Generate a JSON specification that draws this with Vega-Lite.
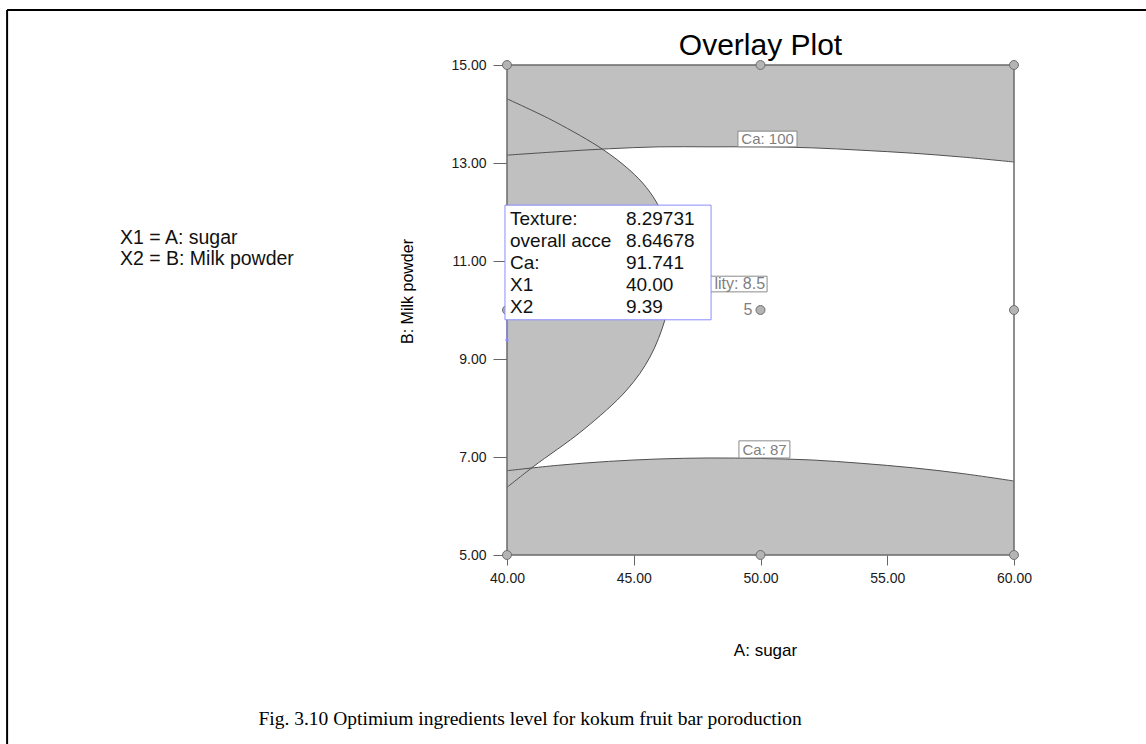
{
  "$schema": "https://vega.github.io/schema/vega-lite/v6.json",
  "width": 507,
  "height": 490,
  "autosize": {"type": "none"},
  "padding": {"left": 507, "top": 65, "right": 132, "bottom": 189},
  "background": "white",
  "config": {"view": {"stroke": null}, "font": "Liberation Sans"},
  "datasets": {
    "ca100": [
      {"a": 40, "b": 13.16}, {"a": 42, "b": 13.23}, {"a": 44, "b": 13.29}, {"a": 46, "b": 13.33},
      {"a": 48, "b": 13.33}, {"a": 50, "b": 13.33}, {"a": 52, "b": 13.31}, {"a": 54, "b": 13.26},
      {"a": 56, "b": 13.2}, {"a": 58, "b": 13.12}, {"a": 60, "b": 13.02}
    ],
    "ca87": [
      {"a": 40, "b": 6.72}, {"a": 42, "b": 6.83}, {"a": 44, "b": 6.91}, {"a": 46, "b": 6.96},
      {"a": 48, "b": 6.98}, {"a": 50, "b": 6.97}, {"a": 52, "b": 6.94}, {"a": 54, "b": 6.87},
      {"a": 56, "b": 6.78}, {"a": 58, "b": 6.66}, {"a": 60, "b": 6.51}
    ],
    "acc": [
      {"a": 40, "b": 6.38}, {"a": 41.03, "b": 6.8}, {"a": 43.0, "b": 7.55}, {"a": 44.73, "b": 8.37},
      {"a": 45.64, "b": 9.04}, {"a": 46.23, "b": 9.8}, {"a": 46.45, "b": 10.4}, {"a": 46.5, "b": 10.98},
      {"a": 46.35, "b": 11.6}, {"a": 46.0, "b": 12.1}, {"a": 45.5, "b": 12.5}, {"a": 44.85, "b": 12.85},
      {"a": 43.8, "b": 13.27}, {"a": 41.9, "b": 13.84}, {"a": 40, "b": 14.31}
    ],
    "design": [
      {"a": 40, "b": 5}, {"a": 50, "b": 5}, {"a": 60, "b": 5},
      {"a": 40, "b": 10}, {"a": 50, "b": 10}, {"a": 60, "b": 10},
      {"a": 40, "b": 15}, {"a": 50, "b": 15}, {"a": 60, "b": 15}
    ],
    "one": [{"k": 1}]
  },
  "layer": [
    {"data": {"name": "ca100"}, "mark": {"type": "area", "color": "#c0c0c0", "interpolate": "catmull-rom"},
      "encoding": {
        "x": {
          "field": "a", "type": "quantitative", "title": "A: sugar",
          "scale": {"domain": [40, 60], "nice": false, "zero": false},
          "axis": {
            "values": [40, 45, 50, 55, 60], "format": ".2f", "grid": false, "domain": false, "labelFlush": false,
            "tickColor": "#666666", "tickSize": 10, "labelPadding": 6,
            "labelFont": "Liberation Sans", "labelFontSize": 14, "labelColor": "#1a1a1a",
            "titleFont": "Liberation Sans", "titleFontSize": 17, "titleFontWeight": "normal", "titleColor": "black",
            "titleX": 258, "titleY": 100, "titleBaseline": "alphabetic", "titleAlign": "center"
          }
        },
        "y": {
          "field": "b", "type": "quantitative", "title": "B: Milk powder",
          "scale": {"domain": [5, 15], "nice": false, "zero": false},
          "axis": {
            "values": [5, 7, 9, 11, 13, 15], "format": ".2f", "grid": false, "domain": false, "labelFlush": false,
            "tickColor": "#666666", "tickSize": 14, "labelPadding": 7,
            "labelFont": "Liberation Sans", "labelFontSize": 14, "labelColor": "#1a1a1a",
            "titleFont": "Liberation Sans", "titleFontSize": 16, "titleFontWeight": "normal", "titleColor": "black",
            "titleAngle": 270, "titleX": -95, "titleY": 226, "titleBaseline": "alphabetic", "titleAlign": "center"
          }
        },
        "y2": {"datum": 15}
      }},
    {"data": {"name": "ca87"}, "mark": {"type": "area", "color": "#c0c0c0", "interpolate": "catmull-rom"},
      "encoding": {
        "x": {"field": "a", "type": "quantitative", "title": "A: sugar", "scale": {"domain": [40, 60], "nice": false, "zero": false}},
        "y": {"field": "b", "type": "quantitative", "title": "B: Milk powder", "scale": {"domain": [5, 15], "nice": false, "zero": false}},
        "y2": {"datum": 5}
      }},
    {"data": {"name": "acc"}, "mark": {"type": "area", "orient": "horizontal", "color": "#c0c0c0", "interpolate": "catmull-rom"},
      "encoding": {
        "x": {"field": "a", "type": "quantitative", "title": "A: sugar", "scale": {"domain": [40, 60], "nice": false, "zero": false}},
        "y": {"field": "b", "type": "quantitative", "title": "B: Milk powder", "scale": {"domain": [5, 15], "nice": false, "zero": false}},
        "x2": {"datum": 40}
      }},
    {"data": {"name": "ca100"}, "mark": {"type": "line", "color": "#505050", "strokeWidth": 1, "interpolate": "catmull-rom"},
      "encoding": {
        "x": {"field": "a", "type": "quantitative", "title": "A: sugar", "scale": {"domain": [40, 60], "nice": false, "zero": false}},
        "y": {"field": "b", "type": "quantitative", "title": "B: Milk powder", "scale": {"domain": [5, 15], "nice": false, "zero": false}}
      }},
    {"data": {"name": "ca87"}, "mark": {"type": "line", "color": "#505050", "strokeWidth": 1, "interpolate": "catmull-rom"},
      "encoding": {
        "x": {"field": "a", "type": "quantitative", "title": "A: sugar", "scale": {"domain": [40, 60], "nice": false, "zero": false}},
        "y": {"field": "b", "type": "quantitative", "title": "B: Milk powder", "scale": {"domain": [5, 15], "nice": false, "zero": false}}
      }},
    {"data": {"name": "acc"}, "mark": {"type": "line", "color": "#505050", "strokeWidth": 1, "interpolate": "catmull-rom"},
      "encoding": {
        "x": {"field": "a", "type": "quantitative", "title": "A: sugar", "scale": {"domain": [40, 60], "nice": false, "zero": false}},
        "y": {"field": "b", "type": "quantitative", "title": "B: Milk powder", "scale": {"domain": [5, 15], "nice": false, "zero": false}},
        "order": {"field": "b", "type": "quantitative"}
      }},
    {"data": {"name": "one"}, "mark": {"type": "rect", "fill": "white", "fillOpacity": 0, "stroke": "#6a6a6a", "strokeWidth": 1.5},
      "encoding": {
        "x": {"datum": 40, "scale": {"domain": [40, 60], "nice": false, "zero": false}}, "x2": {"datum": 60},
        "y": {"datum": 5, "scale": {"domain": [5, 15], "nice": false, "zero": false}}, "y2": {"datum": 15}
      }},
    {"data": {"name": "design"}, "mark": {"type": "point", "filled": true, "size": 80, "fill": "#b4b4b4", "stroke": "#6e6e6e", "strokeWidth": 1, "opacity": 1},
      "encoding": {
        "x": {"field": "a", "type": "quantitative", "title": "A: sugar", "scale": {"domain": [40, 60], "nice": false, "zero": false}},
        "y": {"field": "b", "type": "quantitative", "title": "B: Milk powder", "scale": {"domain": [5, 15], "nice": false, "zero": false}}
      }},
    {"data": {"name": "one"}, "mark": {"type": "text", "text": "Overlay Plot", "fontSize": 30, "color": "black", "align": "center", "baseline": "alphabetic"},
      "encoding": {"x": {"datum": 50, "scale": {"domain": [40, 60], "nice": false, "zero": false}}, "y": {"datum": 15.2, "scale": {"domain": [5, 15], "nice": false, "zero": false}}}},
    {"data": {"name": "one"}, "mark": {"type": "text", "text": "5", "fontSize": 16, "color": "#7f7f7f", "align": "right", "baseline": "middle", "dx": -8},
      "encoding": {"x": {"datum": 50, "scale": {"domain": [40, 60], "nice": false, "zero": false}}, "y": {"datum": 10, "scale": {"domain": [5, 15], "nice": false, "zero": false}}}},
    {"data": {"name": "one"}, "mark": {"type": "rect", "fill": "white", "stroke": "#8a8a8a", "strokeWidth": 1},
      "encoding": {"x": {"datum": 49.11, "scale": {"domain": [40, 60], "nice": false, "zero": false}}, "x2": {"datum": 51.44}, "y": {"datum": 13.33, "scale": {"domain": [5, 15], "nice": false, "zero": false}}, "y2": {"datum": 13.65}}},
    {"data": {"name": "one"}, "mark": {"type": "text", "text": "Ca: 100", "fontSize": 15, "color": "#7f7f7f", "align": "center", "baseline": "middle"},
      "encoding": {"x": {"datum": 50.28, "scale": {"domain": [40, 60], "nice": false, "zero": false}}, "y": {"datum": 13.49, "scale": {"domain": [5, 15], "nice": false, "zero": false}}}},
    {"data": {"name": "one"}, "mark": {"type": "rect", "fill": "white", "stroke": "#8a8a8a", "strokeWidth": 1},
      "encoding": {"x": {"datum": 49.15, "scale": {"domain": [40, 60], "nice": false, "zero": false}}, "x2": {"datum": 51.16}, "y": {"datum": 6.98, "scale": {"domain": [5, 15], "nice": false, "zero": false}}, "y2": {"datum": 7.33}}},
    {"data": {"name": "one"}, "mark": {"type": "text", "text": "Ca: 87", "fontSize": 15, "color": "#7f7f7f", "align": "center", "baseline": "middle"},
      "encoding": {"x": {"datum": 50.16, "scale": {"domain": [40, 60], "nice": false, "zero": false}}, "y": {"datum": 7.15, "scale": {"domain": [5, 15], "nice": false, "zero": false}}}},
    {"data": {"name": "one"}, "mark": {"type": "rect", "fill": "white", "stroke": "#8a8a8a", "strokeWidth": 1},
      "encoding": {"x": {"datum": 47.9, "scale": {"domain": [40, 60], "nice": false, "zero": false}}, "x2": {"datum": 50.26}, "y": {"datum": 10.37, "scale": {"domain": [5, 15], "nice": false, "zero": false}}, "y2": {"datum": 10.69}}},
    {"data": {"name": "one"}, "mark": {"type": "text", "text": "lity: 8.5", "fontSize": 16, "color": "#7f7f7f", "align": "right", "baseline": "middle"},
      "encoding": {"x": {"datum": 50.18, "scale": {"domain": [40, 60], "nice": false, "zero": false}}, "y": {"datum": 10.53, "scale": {"domain": [5, 15], "nice": false, "zero": false}}}},
    {"data": {"name": "one"}, "mark": {"type": "rule", "color": "#8c8cff", "strokeWidth": 1},
      "encoding": {"x": {"datum": 40, "scale": {"domain": [40, 60], "nice": false, "zero": false}}, "y": {"datum": 9.8, "scale": {"domain": [5, 15], "nice": false, "zero": false}}, "y2": {"datum": 9.39}}},
    {"data": {"name": "one"}, "mark": {"type": "point", "filled": true, "size": 12, "color": "#8c8cff", "opacity": 1},
      "encoding": {"x": {"datum": 40, "scale": {"domain": [40, 60], "nice": false, "zero": false}}, "y": {"datum": 9.39, "scale": {"domain": [5, 15], "nice": false, "zero": false}}}},
    {"data": {"name": "one"}, "mark": {"type": "rect", "fill": "white", "stroke": "#8c8cff", "strokeWidth": 1},
      "encoding": {"x": {"datum": 39.92, "scale": {"domain": [40, 60], "nice": false, "zero": false}}, "x2": {"datum": 48.05}, "y": {"datum": 9.8, "scale": {"domain": [5, 15], "nice": false, "zero": false}}, "y2": {"datum": 12.14}}},
    {"data": {"name": "one"}, "mark": {"type": "text", "text": ["Texture:", "overall acce", "Ca:", "X1", "X2"], "fontSize": 19, "lineHeight": 22, "color": "#111111", "align": "left", "baseline": "top"},
      "encoding": {"x": {"datum": 40.12, "scale": {"domain": [40, 60], "nice": false, "zero": false}}, "y": {"datum": 12.04, "scale": {"domain": [5, 15], "nice": false, "zero": false}}}},
    {"data": {"name": "one"}, "mark": {"type": "text", "text": ["8.29731", "8.64678", "91.741", "40.00", "9.39"], "fontSize": 19, "lineHeight": 22, "color": "#111111", "align": "left", "baseline": "top"},
      "encoding": {"x": {"datum": 44.69, "scale": {"domain": [40, 60], "nice": false, "zero": false}}, "y": {"datum": 12.04, "scale": {"domain": [5, 15], "nice": false, "zero": false}}}},
    {"data": {"name": "one"}, "mark": {"type": "text", "text": ["X1 = A: sugar", "X2 = B: Milk powder"], "fontSize": 19.5, "lineHeight": 21, "color": "#111111", "align": "left", "baseline": "top"},
      "encoding": {"x": {"datum": 24.73, "scale": {"domain": [40, 60], "nice": false, "zero": false}}, "y": {"datum": 11.65, "scale": {"domain": [5, 15], "nice": false, "zero": false}}}},
    {"data": {"name": "one"}, "mark": {"type": "text", "text": "Fig. 3.10 Optimium ingredients level for kokum fruit bar poroduction", "font": "Liberation Serif", "fontSize": 19.5, "color": "black", "align": "center", "baseline": "alphabetic"},
      "encoding": {"x": {"datum": 40.91, "scale": {"domain": [40, 60], "nice": false, "zero": false}}, "y": {"datum": 1.53, "scale": {"domain": [5, 15], "nice": false, "zero": false}}}},
    {"data": {"name": "one"}, "mark": {"type": "rule", "color": "black", "strokeWidth": 2},
      "encoding": {"x": {"datum": 20.28, "scale": {"domain": [40, 60], "nice": false, "zero": false}}, "x2": {"datum": 65.3}, "y": {"datum": 16.12, "scale": {"domain": [5, 15], "nice": false, "zero": false}}}},
    {"data": {"name": "one"}, "mark": {"type": "rule", "color": "black", "strokeWidth": 2},
      "encoding": {"x": {"datum": 20.28, "scale": {"domain": [40, 60], "nice": false, "zero": false}}, "y": {"datum": 16.12, "scale": {"domain": [5, 15], "nice": false, "zero": false}}, "y2": {"datum": 1.0}}}
  ]
}
